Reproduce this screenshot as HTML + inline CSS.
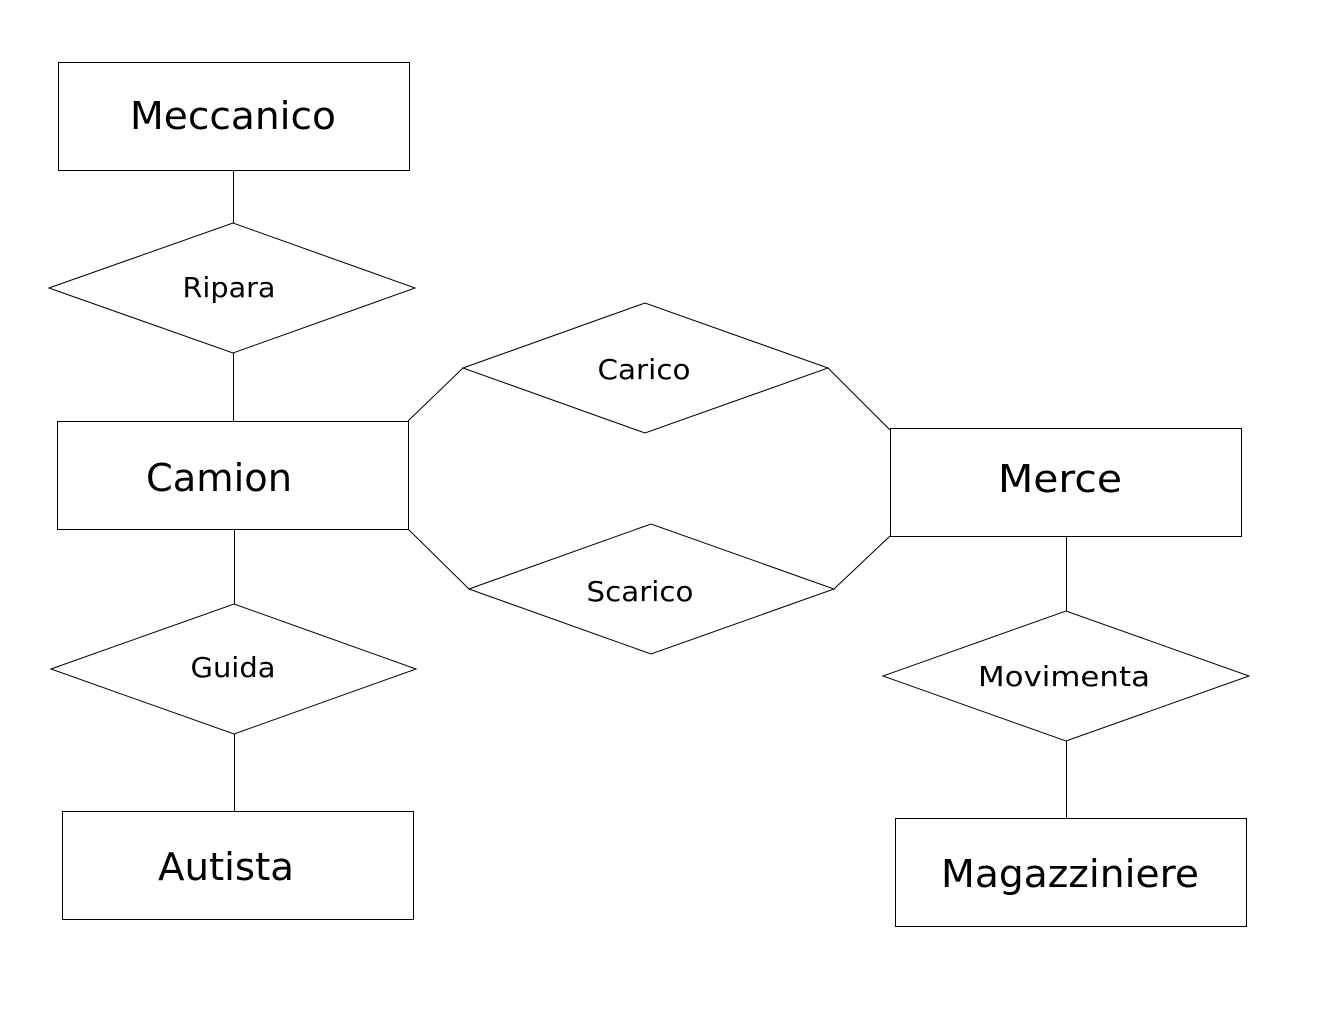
<!DOCTYPE html>
<html><head><meta charset="utf-8"><style>
html,body{margin:0;padding:0;background:#fff;}
svg{display:block;}
text{font-family:"DejaVu Sans","Liberation Sans",sans-serif;fill:#000;}
</style></head><body>
<svg width="1332" height="1020" viewBox="0 0 1332 1020" xmlns="http://www.w3.org/2000/svg">
<g fill="#fff" stroke="#000" stroke-width="1">
<rect x="58.5" y="62.5" width="351" height="108"/>
<rect x="57.5" y="421.5" width="351" height="108"/>
<rect x="62.5" y="811.5" width="351" height="108"/>
<rect x="890.5" y="428.5" width="351" height="108"/>
<rect x="895.5" y="818.5" width="351" height="108"/>
<polygon points="49,288 233,223 415,288 233,353"/>
<polygon points="463,368 645,303 828,368 645,433"/>
<polygon points="469,589 651,524 834,589 651,654"/>
<polygon points="51,669 234,604 416,669 234,734"/>
<polygon points="883,676 1066,611 1249,676 1066,741"/>
</g>
<g stroke="#000" stroke-width="1" fill="none">
<line x1="233.5" y1="170" x2="233.5" y2="223"/>
<line x1="233.5" y1="353" x2="233.5" y2="421"/>
<line x1="234.5" y1="529" x2="234.5" y2="604"/>
<line x1="234.5" y1="734" x2="234.5" y2="811"/>
<line x1="408" y1="421" x2="463" y2="368"/>
<line x1="828" y1="368" x2="890" y2="430"/>
<line x1="408" y1="529" x2="469" y2="589"/>
<line x1="834" y1="589" x2="890" y2="536"/>
<line x1="1066.5" y1="536" x2="1066.5" y2="611"/>
<line x1="1066.5" y1="741" x2="1066.5" y2="818"/>
</g>
<g text-anchor="middle" font-size="38">
<text x="233" y="129" textLength="206" lengthAdjust="spacingAndGlyphs">Meccanico</text>
<text x="219" y="491" textLength="146" lengthAdjust="spacingAndGlyphs">Camion</text>
<text x="226" y="880" textLength="136" lengthAdjust="spacingAndGlyphs">Autista</text>
<text x="1060" y="492" textLength="124" lengthAdjust="spacingAndGlyphs">Merce</text>
<text x="1070" y="887" textLength="258" lengthAdjust="spacingAndGlyphs">Magazziniere</text>
</g>
<g text-anchor="middle" font-size="28">
<text x="229" y="297" textLength="93" lengthAdjust="spacingAndGlyphs">Ripara</text>
<text x="644" y="379" textLength="93" lengthAdjust="spacingAndGlyphs">Carico</text>
<text x="640" y="601" textLength="107" lengthAdjust="spacingAndGlyphs">Scarico</text>
<text x="233" y="677" textLength="85" lengthAdjust="spacingAndGlyphs">Guida</text>
<text x="1064" y="686" textLength="172" lengthAdjust="spacingAndGlyphs">Movimenta</text>
</g>
</svg>
</body></html>
